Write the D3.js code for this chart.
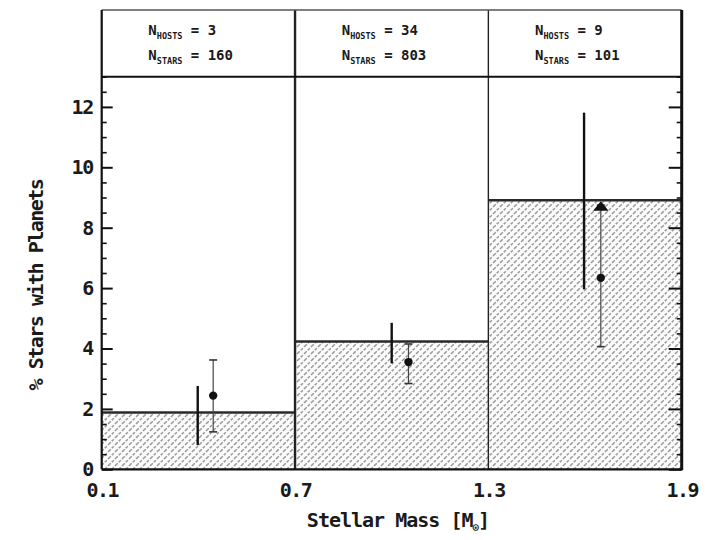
<!DOCTYPE html>
<html>
<head>
<meta charset="utf-8">
<script src="https://cdn.jsdelivr.net/npm/d3@7"></script>
<style>
  html, body { margin: 0; padding: 0; background: #fff; }
  svg { display: block; }
  text { font-family: "DejaVu Sans Mono", monospace; fill: #1a1a1a; }
</style>
</head>
<body>
<svg id="chart" width="712" height="540"></svg>
<script>
// Stellar-mass bins and planet occurrence per bin
const binEdges = [0.1, 0.7, 1.3, 1.9];
const percentWithPlanets = [1.88, 4.23, 8.91];
const nHosts = [3, 34, 9];
const nStars = [160, 803, 101];

// Binomial uncertainty (heavy bars)
const heavyX = [0.398, 1.0, 1.597];
const heavyLow = [0.80, 3.51, 5.96];
const heavyHigh = [2.76, 4.85, 11.81];

// Comparison sample (light bars with dots)
const lightX = [0.446, 1.052, 1.649];
const lightValue = [2.44, 3.55, 6.34];
const lightLow = [1.24, 2.84, 4.06];
const lightHigh = [3.62, 4.15, 8.75];

// Upper marker in the highest-mass bin
const triangleX = [1.649];
const triangleValue = [8.72];

const yMajorTicks = [0, 2, 4, 6, 8, 10, 12];
const xTickLabels = ["0.1", "0.7", "1.3", "1.9"];

const svg = d3.select("#chart");
const plotLeft = 101.7, plotRight = 681.7, plotTop = 76.7, plotBottom = 469.3, headTop = 10;

const x = d3.scaleLinear().domain([0.1, 1.9]).range([plotLeft, plotRight]);
const y = d3.scaleLinear().domain([0, 13]).range([plotBottom, plotTop]);

// hatch pattern for the bars: dashed diagonal strokes
const defs = svg.append("defs");
const pat = defs.append("pattern")
  .attr("id", "hatch").attr("patternUnits", "userSpaceOnUse")
  .attr("width", 7).attr("height", 7);
pat.append("rect").attr("width", 7).attr("height", 7).attr("fill", "#fbfbfb");
pat.append("path")
  .attr("d", "M-1,8 L8,-1 M-4.5,4.5 L4.5,-4.5 M2.5,11.5 L11.5,2.5")
  .attr("stroke", "#9a9a9a").attr("stroke-width", 1.5)
  .attr("stroke-dasharray", "4 1.6");

const bins = percentWithPlanets.map((v, i) => ({ x0: binEdges[i], x1: binEdges[i + 1], v }));

// bars
svg.append("g").selectAll("rect").data(bins).join("rect")
  .attr("x", d => x(d.x0)).attr("width", d => x(d.x1) - x(d.x0))
  .attr("y", d => y(d.v)).attr("height", d => y(0) - y(d.v))
  .attr("fill", "url(#hatch)");

// bar tops
svg.append("g").selectAll("line").data(bins).join("line")
  .attr("x1", d => x(d.x0)).attr("x2", d => x(d.x1))
  .attr("y1", d => y(d.v)).attr("y2", d => y(d.v))
  .attr("stroke", "#2a2a2a").attr("stroke-width", 2.6);

// bin dividers (through header too)
svg.append("g").selectAll("line").data(binEdges.slice(1, -1)).join("line")
  .attr("x1", d => x(d)).attr("x2", d => x(d))
  .attr("y1", headTop).attr("y2", plotBottom)
  .attr("stroke", "#222").attr("stroke-width", (d, i) => i === 0 ? 2.4 : 1.4);

// header box and frame
svg.append("line").attr("x1", plotLeft).attr("x2", plotRight).attr("y1", headTop).attr("y2", headTop)
  .attr("stroke", "#555").attr("stroke-width", 1.6);
svg.append("line").attr("x1", plotLeft).attr("x2", plotRight).attr("y1", plotTop).attr("y2", plotTop)
  .attr("stroke", "#111").attr("stroke-width", 2);
svg.append("line").attr("x1", plotLeft).attr("x2", plotLeft).attr("y1", headTop).attr("y2", plotBottom)
  .attr("stroke", "#111").attr("stroke-width", 2.2);
svg.append("line").attr("x1", plotRight).attr("x2", plotRight).attr("y1", headTop).attr("y2", plotBottom + 1)
  .attr("stroke", "#111").attr("stroke-width", 3);
svg.append("line").attr("x1", plotLeft).attr("x2", plotRight).attr("y1", plotBottom).attr("y2", plotBottom)
  .attr("stroke", "#111").attr("stroke-width", 2.2);

// header counts
const head = svg.append("g");
bins.forEach((d, i) => {
  const cx = (x(d.x0) + x(d.x1)) / 2 - 50;
  const rows = [["HOSTS", nHosts[i]], ["STARS", nStars[i]]];
  rows.forEach((r, j) => {
    const t = head.append("text").attr("x", cx).attr("y", 35 + j * 25)
      .attr("font-size", 14).attr("font-weight", "bold").attr("fill", "#333");
    t.append("tspan").text("N");
    t.append("tspan").attr("dy", 4).attr("font-size", 8.5).text(r[0]);
    t.append("tspan").attr("dy", -4).text(" = " + r[1]);
  });
});

// left axis: major + minor ticks inward, labels outside
const yAxisMajor = d3.axisLeft(y).tickValues(yMajorTicks).tickSize(-11).tickPadding(9)
  .tickFormat(d3.format("d"));
const gl = svg.append("g").attr("transform", `translate(${plotLeft},0)`).call(yAxisMajor);
gl.select(".domain").remove();
gl.selectAll(".tick line").attr("stroke", "#111").attr("stroke-width", 2);
gl.selectAll(".tick text").attr("font-size", 20).attr("font-weight", "bold")
  .attr("letter-spacing", -1.5).attr("font-family", "DejaVu Sans Mono").attr("fill", "#222");

const minorVals = d3.range(0, 13.01, 0.5).filter(v => v % 2 !== 0);
const gm = svg.append("g").attr("transform", `translate(${plotLeft},0)`)
  .call(d3.axisLeft(y).tickValues(minorVals).tickSize(-5).tickFormat(""));
gm.select(".domain").remove();
gm.selectAll(".tick line").attr("stroke", "#111").attr("stroke-width", 1.6);

// right axis ticks
const gr = svg.append("g").attr("transform", `translate(${plotRight},0)`)
  .call(d3.axisRight(y).tickValues(yMajorTicks).tickSize(-13).tickFormat(""));
gr.select(".domain").remove();
gr.selectAll(".tick line").attr("stroke", "#111").attr("stroke-width", 2);
const gr2 = svg.append("g").attr("transform", `translate(${plotRight},0)`)
  .call(d3.axisRight(y).tickValues(minorVals).tickSize(-5).tickFormat(""));
gr2.select(".domain").remove();
gr2.selectAll(".tick line").attr("stroke", "#111").attr("stroke-width", 1.6);

// bottom axis labels
const gx = svg.append("g").attr("transform", `translate(0,${plotBottom})`)
  .call(d3.axisBottom(x).tickValues(binEdges).tickSize(0).tickPadding(14)
    .tickFormat((d, i) => xTickLabels[i]));
gx.select(".domain").remove();
gx.selectAll(".tick text").attr("font-size", 20).attr("font-weight", "bold")
  .attr("letter-spacing", -1.5).attr("font-family", "DejaVu Sans Mono").attr("fill", "#222");

// axis titles
const xt = svg.append("text").attr("x", 398).attr("y", 527).attr("text-anchor", "middle")
  .attr("font-size", 20).attr("font-weight", "bold").attr("letter-spacing", -1).attr("fill", "#222");
xt.append("tspan").text("Stellar Mass [M");
xt.append("tspan").attr("dy", 4).attr("font-size", 11).text("⊙");
xt.append("tspan").attr("dy", -4).text("]");

svg.append("text").attr("transform", "translate(43,285) rotate(-90)")
  .attr("text-anchor", "middle").attr("font-size", 20).attr("font-weight", "bold")
  .attr("letter-spacing", -1.5).attr("fill", "#222").text("% Stars with Planets");

// heavy error bars
svg.append("g").selectAll("line").data(heavyX).join("line")
  .attr("x1", d => x(d)).attr("x2", d => x(d))
  .attr("y1", (d, i) => y(heavyHigh[i])).attr("y2", (d, i) => y(heavyLow[i]))
  .attr("stroke", "#111").attr("stroke-width", 2.4);

// light error bars with caps and dots
const light = svg.append("g");
lightX.forEach((d, i) => {
  const cx = x(d);
  light.append("line").attr("x1", cx).attr("x2", cx)
    .attr("y1", y(lightHigh[i])).attr("y2", y(lightLow[i]))
    .attr("stroke", "#444").attr("stroke-width", 1.2);
  [lightHigh[i], lightLow[i]].forEach(v => {
    light.append("line").attr("x1", cx - 4).attr("x2", cx + 4)
      .attr("y1", y(v)).attr("y2", y(v)).attr("stroke", "#333").attr("stroke-width", 1.6);
  });
  light.append("circle").attr("cx", cx).attr("cy", y(lightValue[i])).attr("r", 4.2)
    .attr("fill", "#111");
});

// triangle marker
const flatTriangle = {
  draw(ctx, size) {
    const w = Math.sqrt(size), h = w * 0.62;
    ctx.moveTo(0, -h / 2); ctx.lineTo(w / 2, h / 2); ctx.lineTo(-w / 2, h / 2); ctx.closePath();
  }
};
svg.append("g").selectAll("path").data(triangleX).join("path")
  .attr("transform", (d, i) => `translate(${x(d)},${y(triangleValue[i])})`)
  .attr("d", d3.symbol(flatTriangle, 240)).attr("fill", "#111");
</script>
</body>
</html>
